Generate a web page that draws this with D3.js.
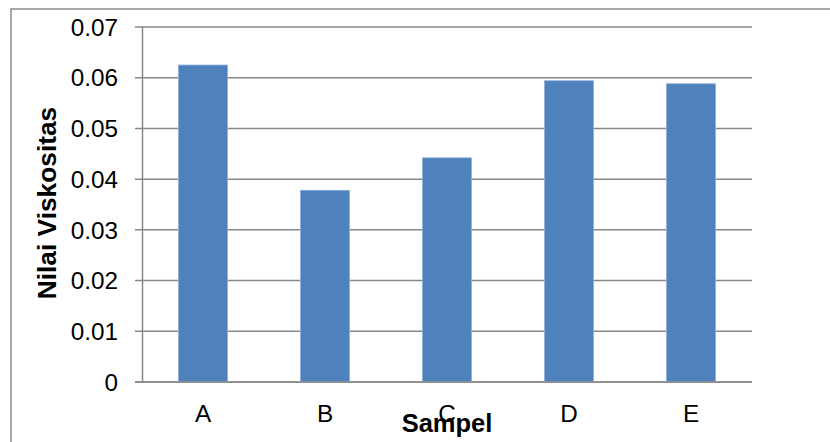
<!DOCTYPE html>
<html>
<head>
<meta charset="utf-8">
<script src="https://cdn.jsdelivr.net/npm/d3@7"></script>
<style>
  html, body { margin: 0; padding: 0; background: #fff; }
  svg { display: block; }
  text { font-family: "Liberation Sans", Arial, sans-serif; fill: #000; }
</style>
</head>
<body>
<svg id="chart" width="830" height="442"></svg>
<script>
// Sample labels and viscosity values
const categories = ["A", "B", "C", "D", "E"];
const viscosity = [0.0624, 0.0377, 0.0441, 0.0593, 0.0587];
const yTicks = [0, 0.01, 0.02, 0.03, 0.04, 0.05, 0.06, 0.07];
const xTitle = "Sampel";
const yTitle = "Nilai Viskositas";

const svg = d3.select("#chart");
const plot = { left: 142, right: 752, top: 26.5, bottom: 381.5 };

// Outer chart frame (continues past the right and bottom edges)
svg.append("rect")
  .attr("x", 11).attr("y", 9)
  .attr("width", 900).attr("height", 500)
  .attr("fill", "none")
  .attr("stroke", "#8c8c8c")
  .attr("stroke-width", 1.5);

const x = d3.scaleBand()
  .domain(categories)
  .range([plot.left, plot.right])
  .paddingInner(0.6)
  .paddingOuter(0.3);

const y = d3.scaleLinear()
  .domain([0, 0.07])
  .range([plot.bottom, plot.top]);

// Horizontal gridlines with outward tick marks
const yAxis = d3.axisLeft(y)
  .tickValues(yTicks)
  .tickFormat(d => d === 0 ? "0" : d3.format(".2f")(d))
  .tickSize(-(plot.right - plot.left))
  .tickPadding(0);

const gy = svg.append("g")
  .attr("transform", `translate(${plot.left},0)`)
  .call(yAxis);
gy.select(".domain").remove();
gy.selectAll(".tick line")
  .attr("x1", -7)
  .attr("stroke", "#888")
  .attr("stroke-width", 1.5);
gy.selectAll(".tick text")
  .attr("x", -24)
  .attr("dy", "0.36em")
  .style("font-size", "24.3px")
  .style("font-family", "'Liberation Sans', Arial, sans-serif")
  .attr("fill", "#000");

// Vertical value axis line
svg.append("line")
  .attr("x1", plot.left + 0.5).attr("x2", plot.left + 0.5)
  .attr("y1", plot.top).attr("y2", plot.bottom)
  .attr("stroke", "#888")
  .attr("stroke-width", 1.5);

// Bars
svg.append("g")
  .selectAll("rect")
  .data(categories.map((c, i) => ({ c, v: viscosity[i] })))
  .join("rect")
  .attr("x", d => x(d.c))
  .attr("width", x.bandwidth())
  .attr("y", d => y(d.v))
  .attr("height", d => y(0) - y(d.v))
  .attr("fill", "#4f81bd")
  .attr("stroke", "#8aaad6")
  .attr("stroke-width", 0.8);

// Category axis along the baseline
const xAxis = d3.axisBottom(x).tickSize(0).tickPadding(0);
const gx = svg.append("g")
  .attr("transform", `translate(0,${plot.bottom})`)
  .call(xAxis);
gx.select(".domain")
  .attr("d", `M${plot.left - 7},0.5H${plot.right}`)
  .attr("stroke", "#888")
  .attr("stroke-width", 1.5);
gx.selectAll(".tick text")
  .attr("y", 40)
  .attr("dy", 0)
  .style("font-size", "24.3px")
  .style("font-family", "'Liberation Sans', Arial, sans-serif")
  .attr("fill", "#000");

// Axis titles
svg.append("text")
  .attr("x", (plot.left + plot.right) / 2)
  .attr("y", 432)
  .attr("text-anchor", "middle")
  .style("font-size", "25.5px")
  .style("font-weight", "bold")
  .text(xTitle);

svg.append("text")
  .attr("transform", `translate(56,203) rotate(-90)`)
  .attr("text-anchor", "middle")
  .style("font-size", "26.3px")
  .style("font-weight", "bold")
  .text(yTitle);
</script>
</body>
</html>
